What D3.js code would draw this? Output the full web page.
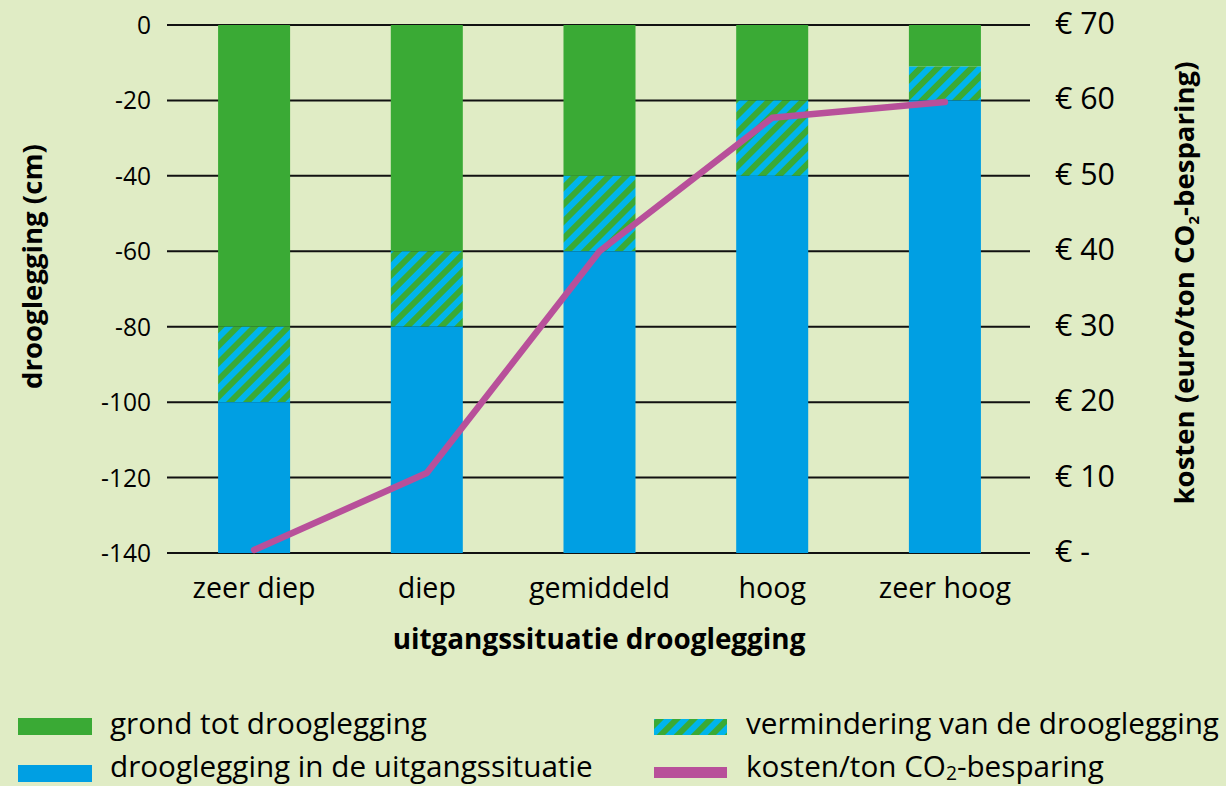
<!DOCTYPE html>
<html>
<head>
<meta charset="UTF-8">
<script src="https://cdn.jsdelivr.net/npm/d3@7"></script>
<style>
  body { margin: 0; background: #e0ecc5; }
  svg { display: block; font-family: "Open Sans", "Liberation Sans", sans-serif; }
</style>
</head>
<body>
<div id="chart"></div>
<script>
// data
var categories = ["zeer diep", "diep", "gemiddeld", "hoog", "zeer hoog"];
var grondTot = [-80, -60, -40, -20, -11];        // bottom of the green part
var uitgang = [-100, -80, -60, -40, -20];        // top of the blue part
var kosten = [0.4, 10.6, 40, 57.7, 59.8];         // euro/ton CO2-besparing
var leftTicks = [0, -20, -40, -60, -80, -100, -120, -140];
var rightTicks = [0, 10, 20, 30, 40, 50, 60, 70];

var width = 1226, height = 786;
var green = "#3aaa35", blue = "#009fe3", lightBlue = "#00b4ec", magenta = "#b8509a";

// scale a text's font-size so it is as wide as in the reference
function fitSize(sel, target) {
  var w = sel.node().getComputedTextLength();
  var fs = parseFloat(sel.attr("font-size"));
  return fs * target / w;
}

var svg = d3.select("#chart").append("svg")
  .attr("width", width)
  .attr("height", height);

svg.append("rect").attr("width", width).attr("height", height).attr("fill", "#e0ecc5");

// hatch pattern
var defs = svg.append("defs");
var pat = defs.append("pattern")
  .attr("id", "hatch")
  .attr("patternUnits", "userSpaceOnUse")
  .attr("width", 12).attr("height", 12)
  .attr("patternTransform", "rotate(45)");
pat.append("rect").attr("width", 12).attr("height", 12).attr("fill", lightBlue);
pat.append("rect").attr("width", 6).attr("height", 12).attr("fill", green);

var x = d3.scaleBand()
  .domain(categories)
  .range([168, 1031])
  .paddingInner(0.583)
  .paddingOuter(0.29);

var y = d3.scaleLinear().domain([-140, 0]).range([553, 25]);
var y2 = d3.scaleLinear().domain([0, 70]).range([553, 25]);

// gridlines
svg.append("g")
  .selectAll("line")
  .data(leftTicks)
  .enter().append("line")
  .attr("x1", 167).attr("x2", 1030)
  .attr("y1", function(d){ return y(d); })
  .attr("y2", function(d){ return y(d); })
  .attr("stroke", "#111")
  .attr("stroke-width", 2);

// left tick labels
var lt = svg.append("g")
  .selectAll("text")
  .data(leftTicks)
  .enter().append("text")
  .attr("x", 151)
  .attr("y", function(d){ return y(d) + 9; })
  .attr("text-anchor", "end")
  .attr("font-size", 24)
  .attr("fill", "#000")
  .text(function(d){ return d; });
var fsL = fitSize(lt.filter(function(d){ return d === -140; }), 50);
lt.attr("font-size", fsL);

// right tick labels
var rtk = svg.append("g")
  .selectAll("text")
  .data(rightTicks)
  .enter().append("text")
  .attr("x", 1055)
  .attr("y", function(d){ return y2(d) + 9; })
  .attr("font-size", 24)
  .attr("fill", "#000")
  .text(function(d){ return d === 0 ? "€ -" : "€ " + d; });
var fsR = fitSize(rtk.filter(function(d){ return d === 70; }), 60);
rtk.attr("font-size", fsR);

// bars
var bars = svg.append("g");
categories.forEach(function(c, i) {
  bars.append("rect")
    .attr("x", x(c)).attr("width", x.bandwidth())
    .attr("y", y(0)).attr("height", y(grondTot[i]) - y(0))
    .attr("fill", green);
  bars.append("rect")
    .attr("x", x(c)).attr("width", x.bandwidth())
    .attr("y", y(grondTot[i])).attr("height", y(uitgang[i]) - y(grondTot[i]))
    .attr("fill", "url(#hatch)");
  bars.append("rect")
    .attr("x", x(c)).attr("width", x.bandwidth())
    .attr("y", y(uitgang[i])).attr("height", y(-140) - y(uitgang[i]))
    .attr("fill", blue);
});

// cost line
var line = d3.line()
  .x(function(d, i){ return x(categories[i]) + x.bandwidth() / 2; })
  .y(function(d){ return y2(d); });

svg.append("path")
  .datum(kosten)
  .attr("d", line)
  .attr("fill", "none")
  .attr("stroke", magenta)
  .attr("stroke-width", 6.5)
  .attr("stroke-linecap", "round")
  .attr("stroke-linejoin", "round");

// category labels
var cl = svg.append("g")
  .selectAll("text")
  .data(categories)
  .enter().append("text")
  .attr("x", function(d){ return x(d) + x.bandwidth() / 2; })
  .attr("y", 598)
  .attr("text-anchor", "middle")
  .attr("font-size", 25)
  .text(function(d){ return d; });
var fsC = fitSize(cl.filter(function(d){ return d === "zeer diep"; }), 123);
cl.attr("font-size", fsC);

// axis titles
var xt = svg.append("text")
  .attr("x", 599).attr("y", 649)
  .attr("text-anchor", "middle")
  .attr("font-size", 24)
  .attr("font-weight", "bold")
  .text("uitgangssituatie drooglegging");
xt.attr("font-size", fitSize(xt, 413));

var rt = svg.append("text")
  .attr("transform", "translate(1194,283) rotate(-90)")
  .attr("text-anchor", "middle")
  .attr("font-size", 23)
  .attr("font-weight", "bold");
rt.append("tspan").text("kosten (euro/ton CO");
rt.append("tspan").attr("font-size", 15).attr("dy", 5).text("2");
rt.append("tspan").attr("dy", -5).text("-besparing)");
var fsT = fitSize(rt, 445);
rt.attr("font-size", fsT);

svg.append("text")
  .attr("transform", "translate(42,389) rotate(-90)")
  .attr("font-size", fsT)
  .attr("font-weight", "bold")
  .text("drooglegging (cm)");

// legend
var leg = svg.append("g");
leg.append("rect").attr("x", 18).attr("y", 718).attr("width", 74).attr("height", 17).attr("fill", green);
var l1 = leg.append("text").attr("x", 110).attr("y", 734).attr("font-size", 26).text("grond tot drooglegging");
var fsLeg = fitSize(l1, 317);
leg.attr("font-size", fsLeg);
l1.attr("font-size", null);
leg.append("rect").attr("x", 18).attr("y", 765).attr("width", 74).attr("height", 17).attr("fill", blue);
leg.append("text").attr("x", 110).attr("y", 777).text("drooglegging in de uitgangssituatie");

leg.append("rect").attr("x", 654).attr("y", 719).attr("width", 73).attr("height", 16).attr("fill", "url(#hatch)");
leg.append("text").attr("x", 746).attr("y", 734).text("vermindering van de drooglegging");
leg.append("rect").attr("x", 654).attr("y", 767).attr("width", 73).attr("height", 11).attr("fill", magenta);
var lk = leg.append("text").attr("x", 746).attr("y", 777);
lk.append("tspan").text("kosten/ton CO");
lk.append("tspan").attr("font-size", fsLeg * 0.65).attr("dy", 3).text("2");
lk.append("tspan").attr("dy", -3).text("-besparing");
</script>
</body>
</html>
